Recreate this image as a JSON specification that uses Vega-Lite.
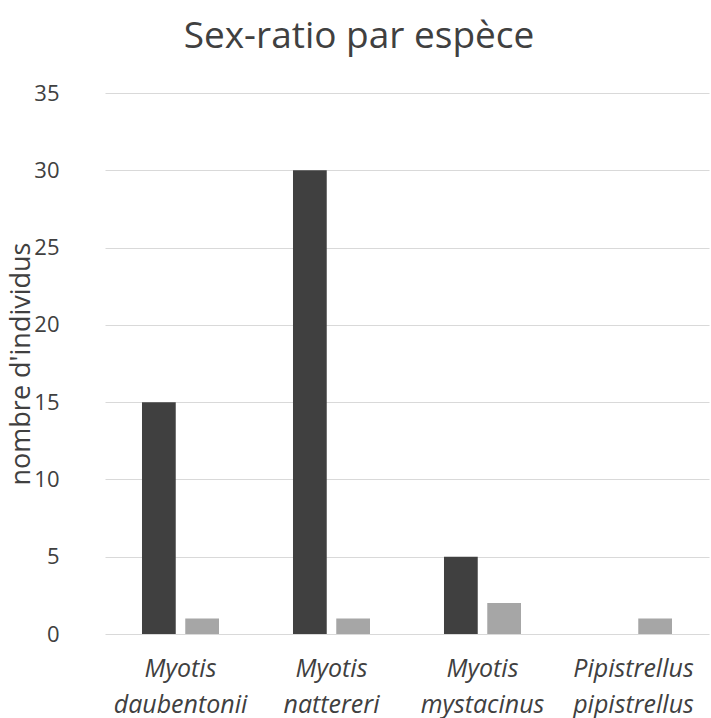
{
  "$schema": "https://vega.github.io/schema/vega-lite/v6.json",
  "width": 604,
  "height": 541,
  "autosize": "none",
  "padding": {"left": 105, "top": 93, "right": 2, "bottom": 84},
  "background": "white",
  "title": {
    "text": "Sex-ratio par espèce",
    "font": "Open Sans",
    "fontSize": 37,
    "fontWeight": "normal",
    "color": "#404040",
    "anchor": "middle",
    "frame": "group",
    "dx": -48,
    "offset": 26
  },
  "data": {
    "values": [
      {"espece": "Myotis daubentonii", "sexe": "mâle", "n": 15},
      {"espece": "Myotis daubentonii", "sexe": "femelle", "n": 1},
      {"espece": "Myotis nattereri", "sexe": "mâle", "n": 30},
      {"espece": "Myotis nattereri", "sexe": "femelle", "n": 1},
      {"espece": "Myotis mystacinus", "sexe": "mâle", "n": 5},
      {"espece": "Myotis mystacinus", "sexe": "femelle", "n": 2},
      {"espece": "Pipistrellus pipistrellus", "sexe": "mâle", "n": 0},
      {"espece": "Pipistrellus pipistrellus", "sexe": "femelle", "n": 1}
    ]
  },
  "mark": {"type": "bar"},
  "encoding": {
    "x": {
      "field": "espece",
      "type": "nominal",
      "sort": null,
      "scale": {"paddingInner": 0.49, "paddingOuter": 0.245},
      "axis": {
        "title": null,
        "labelExpr": "split(datum.label, ' ')",
        "labelAngle": 0,
        "labelFont": "Open Sans",
        "labelFontStyle": "italic",
        "labelFontSize": 25,
        "labelLineHeight": 36,
        "labelColor": "#404040",
        "labelPadding": 22,
        "ticks": false,
        "domain": false
      }
    },
    "xOffset": {
      "field": "sexe",
      "type": "nominal",
      "sort": ["mâle", "femelle"],
      "scale": {"paddingInner": 0.22, "paddingOuter": 0}
    },
    "y": {
      "field": "n",
      "type": "quantitative",
      "scale": {"domain": [0, 35]},
      "axis": {
        "values": [0, 5, 10, 15, 20, 25, 30, 35],
        "title": "nombre d'individus",
        "titleFont": "Open Sans",
        "titleFontSize": 27,
        "titleFontWeight": "normal",
        "titleColor": "#404040",
        "titleX": -84,
        "titleBaseline": "middle",
        "labelFont": "Open Sans",
        "labelFontSize": 22,
        "labelColor": "#404040",
        "labelPadding": 46,
        "ticks": false,
        "domain": false,
        "gridColor": "#d9d9d9",
        "gridWidth": 1
      }
    },
    "color": {
      "field": "sexe",
      "type": "nominal",
      "sort": ["mâle", "femelle"],
      "scale": {"domain": ["mâle", "femelle"], "range": ["#404040", "#a6a6a6"]},
      "legend": null
    }
  },
  "config": {"view": {"stroke": null}}
}
